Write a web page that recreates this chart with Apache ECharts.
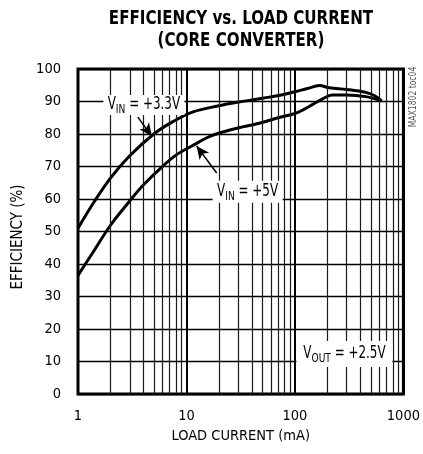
<!DOCTYPE html>
<html>
<head>
<meta charset="utf-8">
<script src="https://cdn.jsdelivr.net/npm/echarts@6/dist/echarts.min.js"></script>
<style>html,body{margin:0;padding:0;background:#fff}#c{width:423px;height:454px}</style>
</head>
<body>
<div id="c"></div>
<script>
var FONT = '"DejaVu Sans Condensed","Liberation Sans Narrow",sans-serif';

var titleLines = ['EFFICIENCY vs. LOAD CURRENT', '(CORE CONVERTER)'];
var xTickValues = [1, 10, 100, 1000];
var yTickValues = [0, 10, 20, 30, 40, 50, 60, 70, 80, 90, 100];
var minorX = [2,3,4,5,6,7,8,9,20,30,40,50,60,70,80,90,200,300,400,500,600,700,800,900];

var vin33 = [[1,51],[1.4,59],[2,66.5],[3,73.3],[5,80],[7.5,83.8],[11.5,86.8],[20,88.7],[30,89.8],[50,91],[75,92],[100,93],[130,94],[168,94.9],[208,94.2],[300,93.7],[450,92.8],[550,91.7],[630,90.2]];
var vin5 = [[1,36.5],[1.4,44],[2,52],[3,59.4],[4,64.3],[5.7,69.3],[8,73.5],[12.4,77.1],[16.4,79.3],[27,81.5],[47,83.3],[70,85],[100,86.3],[120,87.5],[146,89.1],[180,90.8],[220,92],[300,92],[450,91.5],[630,90.2]];

var labels = [
  {id:'l1', text:'{a|V}{b|IN}{a| = +3.3V}', coord:[4.05,88.9], size:[81,20]},
  {id:'l2', text:'{a|V}{b|IN}{a| = +5V}', coord:[36.6,62.2], size:[70,22]},
  {id:'l3', text:'{a|V}{b|OUT}{a| = +2.5V}', coord:[286,12.3], size:[96,26]}
];
var arrows = [
  [[3.56,85.2],[4.8,79.3]],
  [[19,68],[12.4,76.3]]
];

var chart = echarts.init(document.getElementById('c'), null, {renderer:'canvas'});
var rich = {
  a:{fontFamily:FONT, fontSize:17, fill:'#000', lineHeight:22, verticalAlign:'middle'},
  b:{fontFamily:FONT, fontSize:13, fill:'#000', lineHeight:22, verticalAlign:'bottom'}
};
var option = {
  animation:false,
  backgroundColor:'#fff',
  graphic:[
    {id:'t1', type:'text', x:241, y:19, scaleX:0.84, style:{text:titleLines[0], font:'bold 20px '+FONT, fill:'#000', textAlign:'center', textVerticalAlign:'middle'}},
    {id:'t2', type:'text', x:241, y:41, scaleX:0.84, style:{text:titleLines[1], font:'bold 20px '+FONT, fill:'#000', textAlign:'center', textVerticalAlign:'middle'}},
    {id:'t3', type:'text', x:413, y:97, rotation:Math.PI/2, scaleX:0.85, style:{text:'MAX1802 toc04', font:'10px '+FONT, fill:'#555', textAlign:'center', textVerticalAlign:'middle'}}
  ],
  grid:{left:78, right:19, top:69, bottom:60, show:true, borderColor:'#000', borderWidth:3, backgroundColor:'transparent'},
  xAxis:{
    type:'log', logBase:10, min:1, max:1000,
    name:'LOAD CURRENT (mA)', nameLocation:'middle', nameGap:35,
    nameTextStyle:{fontFamily:FONT, fontSize:14.5, color:'#000'},
    axisLine:{show:false}, axisTick:{show:false},
    axisLabel:{fontFamily:FONT, fontSize:14.5, color:'#000', margin:15,
      formatter:function(v){return xTickValues.indexOf(Math.round(v))>=0?String(Math.round(v)):'';}},
    splitLine:{show:true, lineStyle:{color:'#000', width:2}}
  },
  yAxis:{
    type:'value', min:0, max:100, interval:10,
    name:'EFFICIENCY (%)', nameLocation:'middle', nameGap:50,
    nameTextStyle:{fontFamily:FONT, fontSize:15, color:'#000', padding:[0,11,0,0]},
    axisLine:{show:false}, axisTick:{show:false},
    axisLabel:{fontFamily:FONT, fontSize:14.5, color:'#000', margin:17},
    splitLine:{show:true, lineStyle:{color:'#000', width:1.3}}
  },
  series:[
    {type:'line', data:[], silent:true, z:1,
      markLine:{silent:true, symbol:['none','none'], label:{show:false}, animation:false,
        lineStyle:{color:'#1a1a1a', width:1.2, type:'solid'},
        data:minorX.map(function(v){return {xAxis:v};})}},
    {name:'VIN=3.3V', type:'line', data:vin33, smooth:0.35, symbol:'none', z:3,
      lineStyle:{color:'#000', width:3}},
    {name:'VIN=5V', type:'line', data:vin5, smooth:0.35, symbol:'none', z:3,
      lineStyle:{color:'#000', width:3}},
    {type:'line', data:[], silent:true, z:5,
      markPoint:{silent:true, animation:false,
        data:labels.map(function(l){return {name:l.id, coord:l.coord, symbol:'rect', symbolSize:l.size,
          itemStyle:{color:'#fff'}, label:{show:false}};})},
      markLine:{silent:true, animation:false, symbol:['none','arrow'], symbolSize:[9,13], label:{show:false},
        lineStyle:{color:'#000', width:1.5, type:'solid'},
        data:arrows.map(function(a){return [{coord:a[0]},{coord:a[1]}];})}}
  ]
};
chart.setOption(option);
chart.setOption({graphic: labels.map(function(l){
  var p = chart.convertToPixel({gridIndex:0}, l.coord);
  return {id:l.id, type:'text', x:p[0], y:p[1], scaleX:0.78, z:100,
    style:{text:l.text, rich:rich, textAlign:'center', textVerticalAlign:'middle'}};
})});
</script>
</body>
</html>
